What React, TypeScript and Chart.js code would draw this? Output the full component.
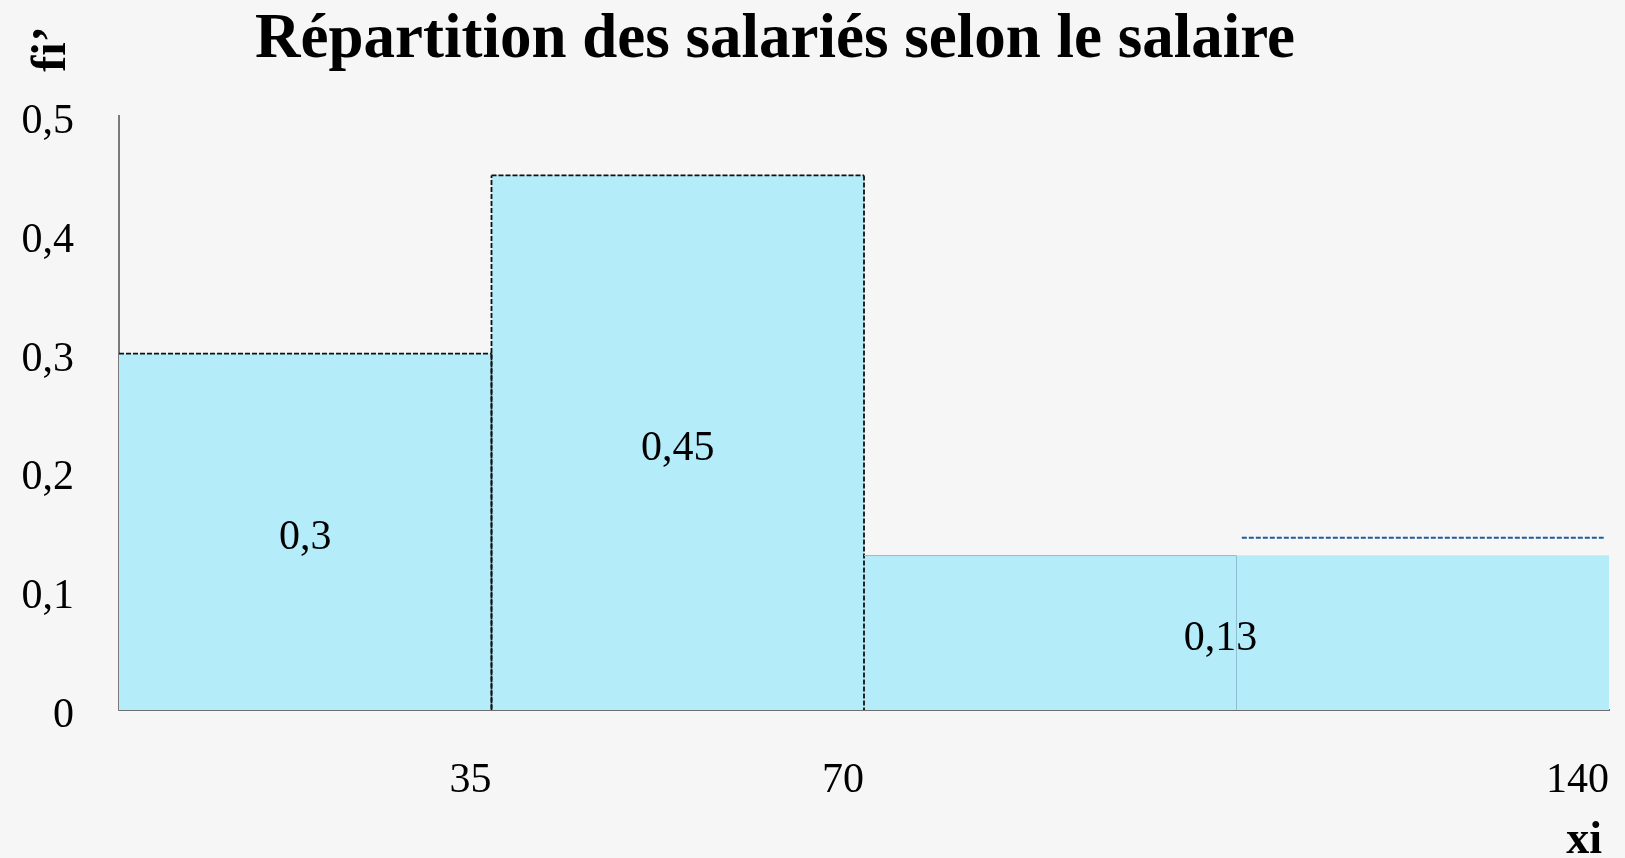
import { useEffect, useRef } from 'react';
import { Chart, registerables } from 'chart.js';

Chart.register(...registerables);

// ---- data ----
const classMids = [17.5, 52.5, 87.5, 122.5];
const barValues = [0.3, 0.45, 0.13, 0.13];
const xTickValues = [35, 70, 140];
const yTickValues = [0, 0.1, 0.2, 0.3, 0.4, 0.5];
const yTickLabels = ['0', '0,1', '0,2', '0,3', '0,4', '0,5'];
const valueLabels = ['0,3', '0,45', '0,13'];
const valueLabelX = [17.5, 52.5, 103.5];
const valueLabelY = [0.3, 0.45, 0.13];
const markerLineX = [105.5, 139.5];
const markerLineY = [0.145, 0.145];
const titleText = 'Répartition des salariés selon le salaire';
const yTitleText = 'fi’';
const xTitleText = 'xi';

// ---- styles ----
const FONT = "'Liberation Serif', 'DejaVu Serif', serif";
const BAR_FILL = '#b4ecfa';
const edgeStyles = [
  { edges: ['top', 'right'], color: '#111111', width: 1.8, dash: [5, 2] },
  { edges: ['top', 'left', 'right'], color: '#111111', width: 1.8, dash: [5, 2] },
  { edges: ['top', 'right'], color: '#8fbfd0', width: 1, dash: [] as number[] },
  { edges: [] as string[], color: '#000', width: 0, dash: [] as number[] },
];

const decorPlugin = {
  id: 'decor',
  afterDatasetsDraw(chart: any) {
    const ctx = chart.ctx as CanvasRenderingContext2D;
    const meta = chart.getDatasetMeta(0);
    meta.data.forEach((bar: any, i: number) => {
      const st = edgeStyles[i];
      if (!st || !st.edges.length) return;
      const { x, y, base, width } = bar.getProps(['x', 'y', 'base', 'width'], true);
      const l = x - width / 2;
      const r = x + width / 2;
      ctx.save();
      ctx.strokeStyle = st.color;
      ctx.lineWidth = st.width;
      ctx.setLineDash(st.dash);
      ctx.beginPath();
      if (st.edges.includes('top')) {
        ctx.moveTo(l, y);
        ctx.lineTo(r, y);
      }
      if (st.edges.includes('left')) {
        ctx.moveTo(l, base);
        ctx.lineTo(l, y);
      }
      if (st.edges.includes('right')) {
        ctx.moveTo(r, y);
        ctx.lineTo(r, base);
      }
      ctx.stroke();
      ctx.restore();
    });

    const xs = chart.scales.x;
    const ys = chart.scales.y;
    ctx.save();
    ctx.font = `42px ${FONT}`;
    ctx.fillStyle = '#000';
    ctx.textAlign = 'center';
    ctx.textBaseline = 'middle';
    valueLabels.forEach((t, i) => {
      ctx.fillText(
        t,
        xs.getPixelForValue(valueLabelX[i]),
        ys.getPixelForValue(valueLabelY[i] / 2) + 6
      );
    });
    ctx.restore();
  },
  afterDraw(chart: any) {
    const ctx = chart.ctx as CanvasRenderingContext2D;
    ctx.save();
    ctx.fillStyle = '#000';
    // title
    ctx.font = `bold 63px ${FONT}`;
    ctx.textAlign = 'center';
    ctx.textBaseline = 'alphabetic';
    ctx.fillText(titleText, 775, 57);
    // y axis title (rotated)
    ctx.save();
    ctx.translate(65, 49);
    ctx.rotate(-Math.PI / 2);
    ctx.font = `bold 48px ${FONT}`;
    ctx.textAlign = 'center';
    ctx.fillText(yTitleText, 0, 0);
    ctx.restore();
    // x axis title
    ctx.font = `bold 46px ${FONT}`;
    ctx.textAlign = 'right';
    ctx.fillText(xTitleText, 1602, 853);
    ctx.restore();
  },
};

export default function App() {
  const ref = useRef<HTMLCanvasElement | null>(null);

  useEffect(() => {
    if (!ref.current) return;
    const chart = new Chart(ref.current, {
      type: 'bar',
      data: {
        datasets: [
          {
            type: 'bar',
            data: classMids.map((x, i) => ({ x, y: barValues[i] })),
            backgroundColor: BAR_FILL,
            borderWidth: 0,
            barPercentage: 1,
            categoryPercentage: 1,
          } as any,
          {
            type: 'line',
            data: markerLineX.map((x, i) => ({ x, y: markerLineY[i] })),
            borderColor: '#1f5c9e',
            borderWidth: 2,
            borderDash: [5, 2],
            pointRadius: 0,
            fill: false,
          } as any,
        ],
      },
      options: {
        animation: false,
        responsive: false,
        devicePixelRatio: 1,
        events: [],
        layout: { padding: { top: 116, right: 16, bottom: 0, left: 0 } },
        plugins: {
          legend: { display: false },
          tooltip: { enabled: false },
          title: { display: false },
        },
        scales: {
          x: {
            type: 'linear',
            min: 0,
            max: 140,
            offset: false,
            z: 1,
            grid: { display: false, drawTicks: false, tickLength: 0 },
            border: { display: true, color: '#6e6e6e', width: 2 },
            afterBuildTicks: (scale: any) => {
              scale.ticks = xTickValues.map((v) => ({ value: v }));
            },
            afterFit: (scale: any) => {
              scale.height = 148;
              scale.paddingLeft = 0;
              scale.paddingRight = 0;
            },
            ticks: {
              align: 'end',
              padding: 46,
              maxRotation: 0,
              autoSkip: false,
              color: '#000',
              font: { family: FONT, size: 42 },
              callback: (v: any) => String(v),
            },
          },
          y: {
            type: 'linear',
            min: 0,
            max: 0.5,
            z: 1,
            grid: { display: false, drawTicks: false, tickLength: 0 },
            border: { display: true, color: '#7a7a7a', width: 2 },
            afterBuildTicks: (scale: any) => {
              scale.ticks = yTickValues.map((v) => ({ value: v }));
            },
            afterFit: (scale: any) => {
              scale.width = 119;
            },
            ticks: {
              padding: 45,
              labelOffset: 6,
              color: '#000',
              font: { family: FONT, size: 42 },
              callback: (_v: any, i: number) => yTickLabels[i],
            },
          },
        },
      } as any,
      plugins: [decorPlugin],
    });
    return () => chart.destroy();
  }, []);

  return (
    <div
      style={{
        position: 'fixed',
        left: 0,
        top: 0,
        width: 1625,
        height: 858,
        background: '#f6f6f6',
      }}
    >
      <canvas ref={ref} width={1625} height={858} style={{ display: 'block' }} />
    </div>
  );
}
